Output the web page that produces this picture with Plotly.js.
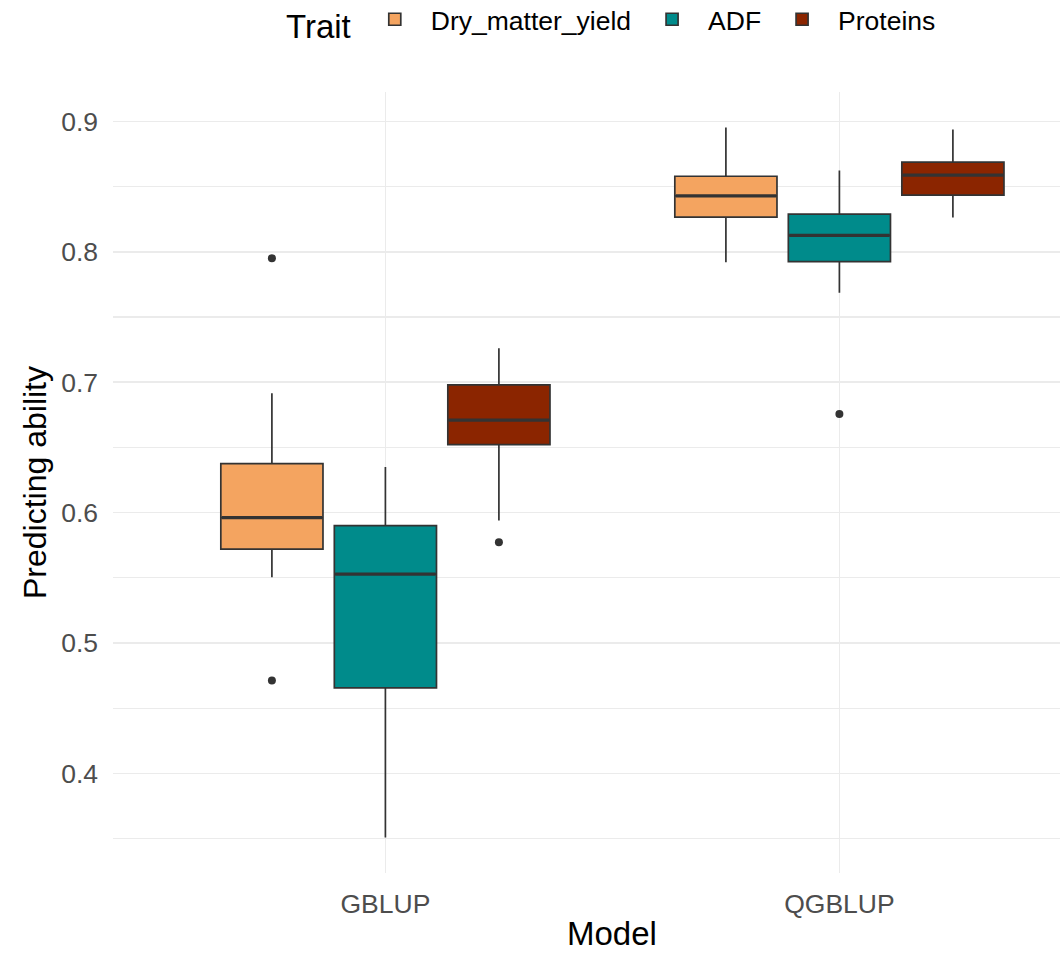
<!DOCTYPE html>
<html>
<head>
<meta charset="utf-8">
<script src="https://cdn.plot.ly/plotly-3.0.1.min.js"></script>
<style>
  html, body { margin: 0; padding: 0; background: #ffffff; }
  #chart { width: 1060px; height: 955px; }
</style>
</head>
<body>
<div id="chart"></div>
<script>
// ---- data ----
const models = ['GBLUP', 'QGBLUP'];
const traits = ['Dry_matter_yield', 'ADF', 'Proteins'];
const traitColors = ['#F4A460', '#008B8B', '#8B2500'];

// rows = traits, columns = models
const lowerWhisker = [[0.5505, 0.7920], [0.3508, 0.7687], [0.5940, 0.8263]];
const q1Values     = [[0.5720, 0.8266], [0.4656, 0.7925], [0.6522, 0.8435]];
const medianValues = [[0.5962, 0.8429], [0.5528, 0.8127], [0.6709, 0.8588]];
const q3Values     = [[0.6376, 0.8580], [0.5900, 0.8289], [0.6980, 0.8688]];
const upperWhisker = [[0.6916, 0.8954], [0.6350, 0.8624], [0.7260, 0.8939]];

const outlierTrait = ['Dry_matter_yield', 'Dry_matter_yield', 'ADF', 'Proteins'];
const outlierModel = ['GBLUP', 'GBLUP', 'QGBLUP', 'GBLUP'];
const outlierValue = [0.7951, 0.4712, 0.6757, 0.5772];

// ---- geometry like ggplot position_dodge on a discrete axis ----
const dodgeWidth = 0.75;
const slot = dodgeWidth / traits.length;
const boxWidth = slot * 0.9;
function xPos(modelIdx, traitIdx) {
  return (modelIdx + 1) + (traitIdx - (traits.length - 1) / 2) * slot;
}
// full discrete range (ggplot: 0.6 expansion each side); the reference is cropped on the right
const xFull = [0.4, models.length + 0.6];
const pxPerUnit = 454;
const plotWidthPx = 947;

const traces = [];
const lineColor = '#333333';

traits.forEach((t, ti) => {
  traces.push({
    type: 'box',
    name: t,
    x: models.map((m, mi) => xPos(mi, ti)),
    q1: q1Values[ti],
    median: medianValues[ti],
    q3: q3Values[ti],
    lowerfence: lowerWhisker[ti],
    upperfence: upperWhisker[ti],
    width: boxWidth,
    whiskerwidth: 0,
    boxpoints: false,
    fillcolor: traitColors[ti],
    line: { color: lineColor, width: 1.7 },
    hoverinfo: 'skip',
    showlegend: true
  });
});

// thicker median bars (ggplot fatten = 2)
traits.forEach((t, ti) => {
  const xs = [], ys = [];
  models.forEach((m, mi) => {
    const c = xPos(mi, ti);
    xs.push(c - boxWidth / 2 + 0.002, c + boxWidth / 2 - 0.002, null);
    ys.push(medianValues[ti][mi], medianValues[ti][mi], null);
  });
  traces.push({
    type: 'scatter', mode: 'lines', x: xs, y: ys,
    line: { color: lineColor, width: 3.2 },
    hoverinfo: 'skip', showlegend: false
  });
});

// outliers
traits.forEach((t, ti) => {
  const xs = [], ys = [];
  outlierValue.forEach((v, k) => {
    if (outlierTrait[k] === t) {
      xs.push(xPos(models.indexOf(outlierModel[k]), ti));
      ys.push(v);
    }
  });
  traces.push({
    type: 'scatter', mode: 'markers', x: xs, y: ys,
    marker: { color: lineColor, size: 8 },
    hoverinfo: 'skip', showlegend: false
  });
});

// y range with ggplot's 5% expansion
const allVals = [].concat(...lowerWhisker, ...upperWhisker, outlierValue);
const yMin = Math.min(...allVals), yMax = Math.max(...allVals);
const pad = (yMax - yMin) * 0.05;

const fontFam = 'Liberation Sans, Arial, sans-serif';
const gridCol = '#EBEBEB';
const marginB = 82;

const layout = {
  width: 1060, height: 955,
  paper_bgcolor: '#ffffff', plot_bgcolor: '#ffffff',
  margin: { l: 113, r: 0, t: 92, b: marginB },
  font: { family: fontFam, color: '#000000' },
  showlegend: true,
  legend: {
    orientation: 'h',
    xref: 'container', yref: 'container',
    x: 612.5 / 1060, xanchor: 'center',
    y: 1 - 22 / 955, yanchor: 'middle',
    itemwidth: 62,
    title: { text: 'Trait', font: { size: 33, color: '#000000' }, side: 'left' },
    font: { size: 26.5, color: '#000000' },
    itemclick: false, itemdoubleclick: false,
    traceorder: 'normal'
  },
  xaxis: {
    range: [xFull[0], xFull[0] + plotWidthPx / pxPerUnit],
    tickvals: models.map((m, i) => i + 1),
    ticktext: models,
    showgrid: true, gridcolor: gridCol, gridwidth: 1.5,
    zeroline: false, showline: false, ticks: '',
    ticklabelstandoff: 12,
    tickfont: { size: 26.5, color: '#4D4D4D', family: fontFam },
    fixedrange: true
  },
  yaxis: {
    range: [yMin - pad, yMax + pad],
    tick0: 0, dtick: 0.1, tickformat: '.1f',
    showgrid: true, gridcolor: gridCol, gridwidth: 1.5,
    minor: { dtick: 0.05, showgrid: true, gridcolor: gridCol, gridwidth: 1.2 },
    zeroline: false, showline: false, ticks: '',
    ticklabelstandoff: 14,
    tickfont: { size: 26.5, color: '#4D4D4D', family: fontFam },
    title: { text: 'Predicting ability', font: { size: 32, color: '#000000' }, standoff: 4 },
    fixedrange: true
  },
  annotations: [{
    // x-axis title, centred on the full (uncropped) discrete range like ggplot
    text: 'Model',
    xref: 'x', yref: 'paper',
    x: (xFull[0] + xFull[1]) / 2, y: 0,
    xanchor: 'center', yanchor: 'bottom', yshift: -(marginB - 2),
    borderpad: 0,
    showarrow: false,
    font: { size: 33, color: '#000000', family: fontFam }
  }]
};

Plotly.newPlot('chart', traces, layout, { displayModeBar: false, staticPlot: true });
</script>
</body>
</html>
